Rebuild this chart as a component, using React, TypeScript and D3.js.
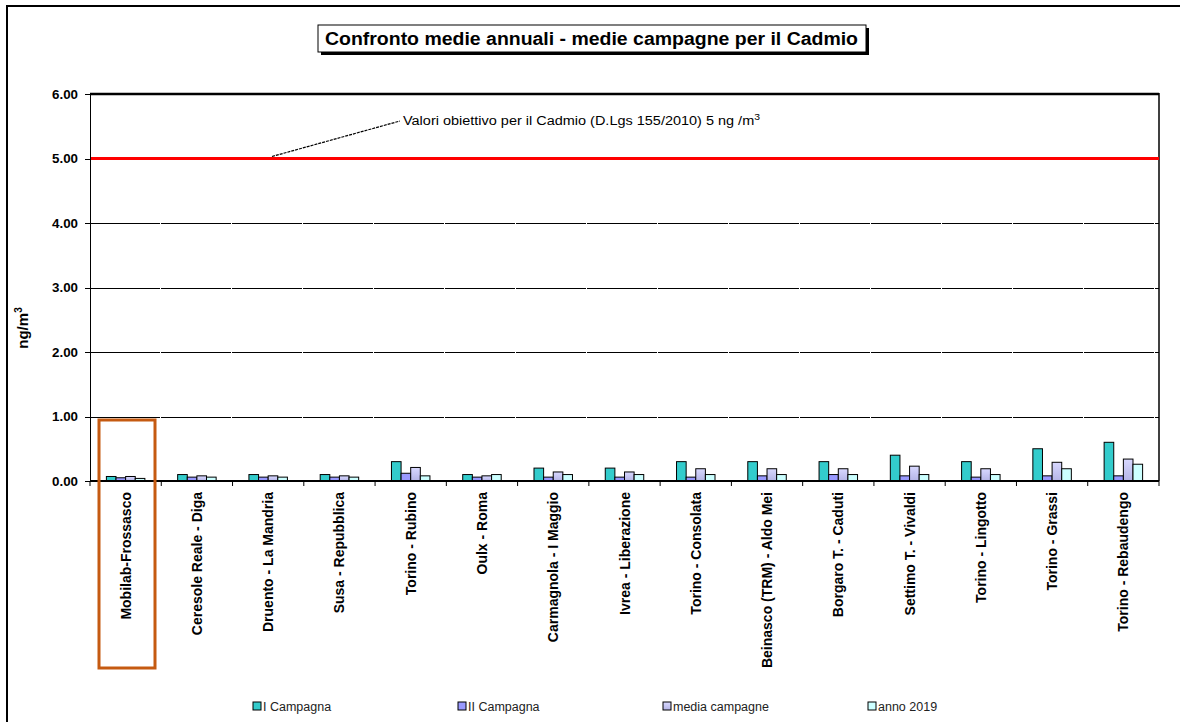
import React from "react";
import * as d3 from "d3";

const categories = [
  "Mobilab-Frossasco",
  "Ceresole Reale - Diga",
  "Druento - La Mandria",
  "Susa - Repubblica",
  "Torino - Rubino",
  "Oulx - Roma",
  "Carmagnola - I Maggio",
  "Ivrea - Liberazione",
  "Torino - Consolata",
  "Beinasco (TRM) - Aldo Mei",
  "Borgaro T. - Caduti",
  "Settimo T. - Vivaldi",
  "Torino - Lingotto",
  "Torino - Grassi",
  "Torino - Rebaudengo",
];

const seriesNames = ["I Campagna", "II Campagna", "media campagne", "anno 2019"];
const seriesColors = ["#33CCCC", "#9999FF", "#C6C6F4", "#CCFFFF"];

const iCampagna = [0.07, 0.1, 0.1, 0.1, 0.3, 0.1, 0.2, 0.2, 0.3, 0.3, 0.3, 0.4, 0.3, 0.5, 0.6];
const iiCampagna = [0.05, 0.06, 0.06, 0.06, 0.12, 0.06, 0.06, 0.06, 0.06, 0.08, 0.1, 0.08, 0.06, 0.08, 0.08];
const mediaCampagne = [0.07, 0.08, 0.08, 0.08, 0.21, 0.08, 0.14, 0.14, 0.19, 0.19, 0.19, 0.23, 0.19, 0.29, 0.34];
const anno2019 = [0.04, 0.06, 0.06, 0.06, 0.08, 0.1, 0.1, 0.1, 0.1, 0.1, 0.1, 0.1, 0.1, 0.19, 0.26];

const yTicks = [0, 1, 2, 3, 4, 5, 6];
const targetValue = 5;

const seriesValues = [iCampagna, iiCampagna, mediaCampagne, anno2019];

export default function App() {
  const W = 1180;
  const H = 722;
  const left = 90;
  const right = 1159;
  const top = 94;
  const bottom = 481;

  const x = d3.scaleBand<string>().domain(categories).range([left, right]).padding(0);
  const groupW = x.bandwidth() * 0.54;
  const x1 = d3
    .scaleBand<string>()
    .domain(seriesNames)
    .range([(x.bandwidth() - groupW) / 2, (x.bandwidth() + groupW) / 2])
    .padding(0);
  const y = d3.scaleLinear().domain([0, 6]).range([bottom, top]);

  const font = "'Liberation Sans', Arial, sans-serif";
  const boundaries = [...categories.map((c) => x(c) as number), right];

  return (
    <svg width={W} height={H} style={{ position: "absolute", left: 0, top: 0 }} fontFamily={font}>
      <defs>
        <linearGradient id="mediaGrad" x1="0" y1="0" x2="0" y2="1">
          <stop offset="0" stopColor="#D8D8FF" />
          <stop offset="1" stopColor="#B4B4E6" />
        </linearGradient>
      </defs>
      <rect x={0} y={0} width={W} height={H} fill="#fff" />
      {/* outer frame */}
      <rect x={7} y={6} width={W + 10} height={H + 10} fill="none" stroke="#000" strokeWidth={2} />

      {/* title */}
      <rect x={321} y={28} width={548} height={27} fill="#000" />
      <rect x={318} y={25} width={548} height={27} fill="#fff" stroke="#000" strokeWidth={1} />
      <text x={325} y={45} fontSize={18} fontWeight="bold" textLength={533} lengthAdjust="spacingAndGlyphs">
        Confronto medie annuali - medie campagne per il Cadmio
      </text>

      {/* gridlines */}
      {yTicks.slice(1, 6).map((t) => (
        <line key={"g" + t} x1={left} x2={right} y1={Math.round(y(t)) + 0.5} y2={Math.round(y(t)) + 0.5} stroke="#000" strokeWidth={1} strokeDasharray="70,1" />
      ))}
      <line x1={left} x2={right} y1={top} y2={top} stroke="#000" strokeWidth={2.5} />
      <line x1={right} x2={right} y1={top - 1} y2={bottom} stroke="#000" strokeWidth={1.5} />

      {/* target line */}
      <line x1={left} x2={right} y1={y(targetValue)} y2={y(targetValue)} stroke="#FF0000" strokeWidth={3} />

      {/* y axis */}
      <line x1={left + 0.5} x2={left + 0.5} y1={top} y2={bottom} stroke="#000" strokeWidth={1} />
      {yTicks.map((t) => (
        <g key={"t" + t}>
          <line x1={left - 5} x2={left} y1={Math.round(y(t)) + 0.5} y2={Math.round(y(t)) + 0.5} stroke="#000" strokeWidth={1} />
          <text x={78} y={y(t) + 4.5} textAnchor="end" fontSize={12.5} fontWeight="bold" textLength={26} lengthAdjust="spacingAndGlyphs">
            {t.toFixed(2)}
          </text>
        </g>
      ))}
      <text transform={`translate(28,328) rotate(-90)`} textAnchor="middle" fontSize={15} fontWeight="bold">
        ng/m<tspan dy={-6} fontSize={10}>3</tspan>
      </text>

      {/* bars */}
      {categories.map((c, i) => (
        <g key={c} transform={`translate(${x(c)},0)`}>
          {seriesNames.map((s, j) => {
            const v = seriesValues[j][i];
            return (
              <rect
                key={s}
                x={x1(s)}
                y={y(v)}
                width={x1.bandwidth()}
                height={bottom - y(v)}
                fill={j === 2 ? "url(#mediaGrad)" : seriesColors[j]}
                stroke="#000"
                strokeWidth={1}
              />
            );
          })}
        </g>
      ))}

      {/* x axis */}
      <line x1={left} x2={right} y1={bottom} y2={bottom} stroke="#000" strokeWidth={2} />
      {boundaries.map((b, i) => (
        <line key={"xb" + i} x1={b} x2={b} y1={bottom} y2={bottom + 5} stroke="#000" strokeWidth={1} />
      ))}
      {categories.map((c) => (
        <text
          key={"l" + c}
          transform={`translate(${(x(c) as number) + x.bandwidth() / 2 + 5},${bottom + 11}) rotate(-90)`}
          textAnchor="end"
          fontSize={14}
          fontWeight="bold"
        >
          {c}
        </text>
      ))}

      {/* annotation */}
      <line x1={272} y1={y(targetValue) - 2} x2={400} y2={121} stroke="#000" strokeWidth={1.2} strokeDasharray="3,1" />
      <text x={403} y={125} fontSize={12.5} textLength={357} lengthAdjust="spacingAndGlyphs">
        Valori obiettivo per il Cadmio (D.Lgs 155/2010) 5 ng /m<tspan dy={-5} fontSize={9}>3</tspan>
      </text>

      {/* highlight box */}
      <rect x={99} y={420} width={56} height={248} fill="none" stroke="#C55A11" strokeWidth={3} />

      {/* legend */}
      {seriesNames.map((s, j) => (
        <g key={"lg" + s} transform={`translate(${253 + j * 205},702)`}>
          <rect x={0} y={0} width={8} height={8} fill={j === 2 ? "url(#mediaGrad)" : seriesColors[j]} stroke="#000" strokeWidth={1} />
          <text x={10} y={9} fontSize={12.5} fill="#222">
            {s}
          </text>
        </g>
      ))}
    </svg>
  );
}
